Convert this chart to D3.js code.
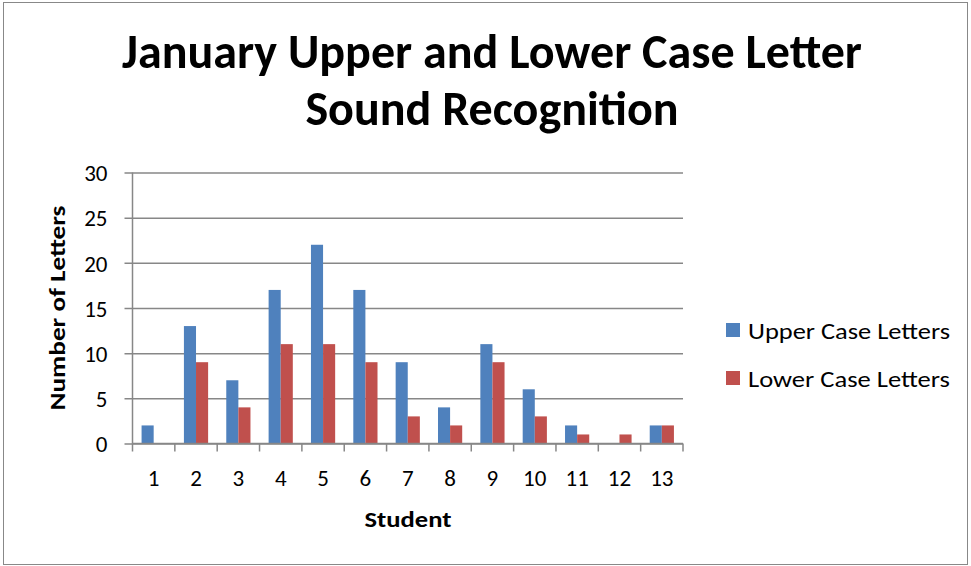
<!DOCTYPE html>
<html>
<head>
<meta charset="utf-8">
<script src="https://cdn.jsdelivr.net/npm/d3@7"></script>
<style>
  body { margin: 0; background: #fff; }
  text { font-family: Carlito, Lato, "Open Sans", sans-serif; fill: #000; }
</style>
</head>
<body>
<div id="chart"></div>
<script>
// chart values
var students = ["1", "2", "3", "4", "5", "6", "7", "8", "9", "10", "11", "12", "13"];
var upperCase = [2, 13, 7, 17, 22, 17, 9, 4, 11, 6, 2, 0, 2];
var lowerCase = [0, 9, 4, 11, 11, 9, 3, 2, 9, 3, 1, 1, 2];
var seriesNames = ["Upper Case Letters", "Lower Case Letters"];
var yTicks = [0, 5, 10, 15, 20, 25, 30];

var width = 971, height = 566;
var colors = ["#4f81bd", "#c0504d"];
var gridColor = "#878787";
var tickFont = 23;

var plot = {left: 132.5, right: 683, top: 172.5, bottom: 443.5};

var svg = d3.select("#chart")
    .append("svg")
    .attr("width", width)
    .attr("height", height);

// outer frame
svg.append("rect")
    .attr("x", 3.5).attr("y", 2.5)
    .attr("width", 964).attr("height", 562)
    .attr("fill", "#fff")
    .attr("stroke", "#888")
    .attr("stroke-width", 1);

var x = d3.scaleBand()
    .domain(students)
    .range([plot.left, plot.right]);

var inner = d3.scaleBand()
    .domain([0, 1])
    .range([0, x.bandwidth()])
    .paddingInner(0)
    .paddingOuter(0.75);

var y = d3.scaleLinear()
    .domain([0, 30])
    .range([plot.bottom, plot.top]);

// gridlines + y ticks
var yAxis = svg.append("g")
    .attr("transform", "translate(" + plot.left + ",0)")
    .call(d3.axisLeft(y).tickValues(yTicks).tickSize(8).tickPadding(8)
        .tickSizeInner(-(plot.right - plot.left)));
yAxis.select(".domain").remove();
yAxis.attr("font-size", tickFont).attr("font-family", null);
yAxis.selectAll(".tick line")
    .attr("x1", -8)
    .attr("stroke", gridColor)
    .attr("stroke-width", 1.5);
yAxis.selectAll(".tick text")
    .attr("x", -25)
    .style("font-size", tickFont + "px")
    .attr("dy", "0.36em");

// bars
var rows = students.map(function(s, i) {
    return {student: s, values: [upperCase[i], lowerCase[i]]};
});

var groups = svg.selectAll(".group")
    .data(rows)
    .enter()
    .append("g")
    .attr("class", "group")
    .attr("transform", function(d) { return "translate(" + x(d.student) + ",0)"; });

groups.selectAll("rect")
    .data(function(d) { return d.values; })
    .enter()
    .append("rect")
    .attr("x", function(d, i) { return inner(i); })
    .attr("width", inner.bandwidth())
    .attr("y", function(d) { return y(d); })
    .attr("height", function(d) { return y(0) - y(d); })
    .attr("fill", function(d, i) { return colors[i]; });

// y axis line
svg.append("line")
    .attr("x1", plot.left).attr("x2", plot.left)
    .attr("y1", plot.top).attr("y2", plot.bottom)
    .attr("stroke", gridColor).attr("stroke-width", 1.5);

// x axis with boundary ticks
var xAxis = svg.append("g")
    .attr("transform", "translate(0," + plot.bottom + ")");
xAxis.append("line")
    .attr("x1", plot.left).attr("x2", plot.right)
    .attr("stroke", gridColor).attr("stroke-width", 1.5);
var bounds = students.map(function(s) { return x(s); }).concat([plot.right]);
xAxis.selectAll(".bt")
    .data(bounds)
    .enter()
    .append("line")
    .attr("x1", function(d) { return d; })
    .attr("x2", function(d) { return d; })
    .attr("y1", 0).attr("y2", 8)
    .attr("stroke", gridColor).attr("stroke-width", 1.5);
xAxis.selectAll(".lbl")
    .data(students)
    .enter()
    .append("text")
    .attr("x", function(d) { return x(d) + x.bandwidth() / 2; })
    .attr("y", 42)
    .attr("text-anchor", "middle")
    .style("font-size", tickFont + "px")
    .text(function(d) { return d; });

// axis titles
svg.append("text")
    .attr("x", 408)
    .attr("y", 527)
    .attr("text-anchor", "middle")
    .attr("font-size", 23)
    .attr("font-weight", "bold")
    .attr("textLength", 87)
    .attr("lengthAdjust", "spacingAndGlyphs")
    .text("Student");

svg.append("text")
    .attr("transform", "translate(65,308) rotate(-90)")
    .attr("text-anchor", "middle")
    .attr("font-size", 23)
    .attr("font-weight", "bold")
    .attr("textLength", 205)
    .attr("lengthAdjust", "spacingAndGlyphs")
    .text("Number of Letters");

// title
var titleLines = ["January Upper and Lower Case Letter", "Sound Recognition"];
svg.selectAll(".title")
    .data(titleLines)
    .enter()
    .append("text")
    .attr("class", "title")
    .attr("x", 492)
    .attr("y", function(d, i) { return 68 + i * 57; })
    .attr("text-anchor", "middle")
    .attr("font-size", 40)
    .attr("font-weight", "bold")
    .text(function(d) { return d; });

// fit title width to reference (~740px for first line)
var w0 = svg.select(".title").node().getComputedTextLength();
var fs = 40 * 740 / w0;
svg.selectAll(".title").attr("font-size", fs);

// legend
var legend = svg.selectAll(".legend")
    .data(seriesNames)
    .enter()
    .append("g")
    .attr("class", "legend")
    .attr("transform", function(d, i) { return "translate(726," + (323 + i * 48) + ")"; });
legend.append("rect")
    .attr("width", 14).attr("height", 14)
    .attr("fill", function(d, i) { return colors[i]; });
legend.append("text")
    .attr("x", 22)
    .attr("y", 16)
    .attr("font-size", 22)
    .attr("textLength", 202)
    .attr("lengthAdjust", "spacingAndGlyphs")
    .text(function(d) { return d; });
</script>
</body>
</html>
